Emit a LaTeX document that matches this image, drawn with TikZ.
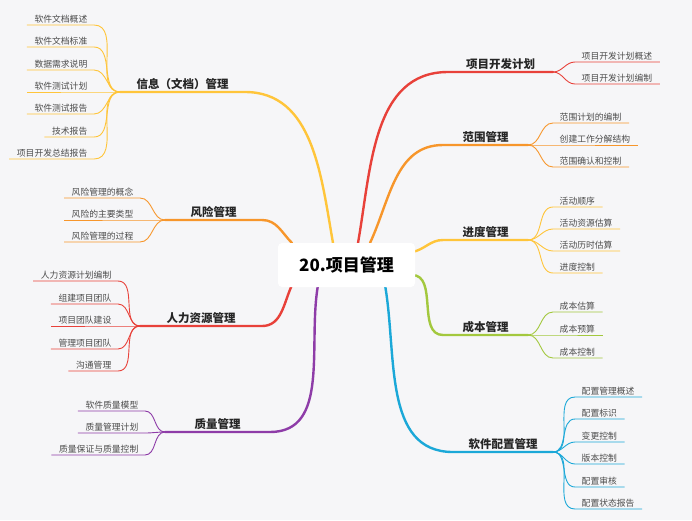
\documentclass[tikz,border=0pt]{standalone}
\usepackage{fontspec}
\setmainfont{Noto Sans CJK SC}
\usetikzlibrary{calc}
\definecolor{cR}{HTML}{E8413A}
\definecolor{cO}{HTML}{F7962B}
\definecolor{cY}{HTML}{FFC53A}
\definecolor{cG}{HTML}{A3C83E}
\definecolor{cB}{HTML}{1BA8D8}
\definecolor{cP}{HTML}{8E3CA8}
\definecolor{bgc}{HTML}{F6F6F8}
\tikzset{
 br/.style={line width=2.4pt,line cap=round},
 sub/.style={line width=0.9pt},
 lab/.style={font=\bfseries\fontsize{11.5}{12}\selectfont,text=black!85,inner sep=2pt},
 itm/.style={font=\fontsize{8.8}{9}\selectfont,text=black!70,inner sep=1.5pt},
}
\newcommand\RItem[6]{% name color branchend xs uy text
 \node[itm,anchor=south west] (#1) at (#4+5,-#5) {#6};
 \draw[sub,#2] (#3) to[out=0,in=180] (#4,-#5) -- ([xshift=6pt]#1.south east);}
\newcommand\LItem[6]{% name color branchend xe uy text
 \node[itm,anchor=south east] (#1) at (#4-5,-#5) {#6};
 \draw[sub,#2] (#3) to[out=180,in=0] (#4,-#5) -- ([xshift=-6pt]#1.south west);}
\begin{document}
\begin{tikzpicture}[x=1pt,y=1pt]
\fill[bgc] (0,0) rectangle (692,-520);
\useasboundingbox (0,0) rectangle (692,-520);
% main branches
\coordinate (rs) at (358,-243); \coordinate (ra) at (448,-72); \coordinate (rb) at (553,-72);
\coordinate (os) at (370,-243); \coordinate (oa) at (443,-145); \coordinate (ob) at (528,-145);
\coordinate (ys) at (412,-252); \coordinate (ya) at (443,-240); \coordinate (yb) at (528,-240);
\coordinate (gs) at (412,-275); \coordinate (ga) at (443,-335); \coordinate (gb) at (528,-335);
\coordinate (bs) at (385,-285); \coordinate (ba) at (453,-452); \coordinate (bb) at (553,-452);
\coordinate (ls) at (333,-243); \coordinate (la) at (245,-92); \coordinate (lb) at (120,-92);
\coordinate (fs) at (292,-243); \coordinate (fa) at (262,-220); \coordinate (fb) at (165,-220);
\coordinate (hs) at (292,-285); \coordinate (ha) at (262,-326); \coordinate (hb) at (140,-326);
\coordinate (qs) at (318,-285); \coordinate (qa) at (270,-432); \coordinate (qb) at (165,-432);
\draw[br,cR] (rs) to[out=80,in=180] (ra) -- (rb);
\draw[br,cO] (os) to[out=65,in=180] (oa) -- (ob);
\draw[br,cY] (ys) to[out=10,in=180] (ya) -- (yb);
\draw[br,cG] (gs) to[out=0,in=180] (ga) -- (gb);
\draw[br,cB] (bs) to[out=-80,in=180] (ba) -- (bb);
\draw[br,cY] (ls) to[out=100,in=0] (la) -- (lb);
\draw[br,cO] (fs) to[out=135,in=0] (fa) -- (fb);
\draw[br,cR] (hs) to[out=-115,in=0] (ha) -- (hb);
\draw[br,cP] (qs) to[out=-100,in=0] (qa) -- (qb);
\node[lab,anchor=south] (L1) at ($(ra)!0.5!(rb)$) {项目开发计划};
\node[lab,anchor=south] (L2) at ($(oa)!0.5!(ob)$) {范围管理};
\node[lab,anchor=south] (L3) at ($(ya)!0.5!(yb)$) {进度管理};
\node[lab,anchor=south] (L4) at ($(ga)!0.5!(gb)$) {成本管理};
\node[lab,anchor=south] (L5) at ($(ba)!0.5!(bb)$) {软件配置管理};
\node[lab,anchor=south] (L6) at ($(la)!0.5!(lb)$) {信息（文档）管理};
\node[lab,anchor=south] (L7) at ($(fa)!0.5!(fb)$) {风险管理};
\node[lab,anchor=south] (L8) at ($(ha)!0.5!(hb)$) {人力资源管理};
\node[lab,anchor=south] (L9) at ($(qa)!0.5!(qb)$) {质量管理};
% right items
\RItem{r1}{cR}{rb}{575}{62}{项目开发计划概述}
\RItem{r2}{cR}{rb}{575}{84}{项目开发计划编制}
\RItem{o1}{cO}{ob}{553}{123}{范围计划的编制}
\RItem{o2}{cO}{ob}{553}{145}{创建工作分解结构}
\RItem{o3}{cO}{ob}{553}{167}{范围确认和控制}
\RItem{y1}{cY}{yb}{553}{207}{活动顺序}
\RItem{y2}{cY}{yb}{553}{229}{活动资源估算}
\RItem{y3}{cY}{yb}{553}{251}{活动历时估算}
\RItem{y4}{cY}{yb}{553}{273}{进度控制}
\RItem{g1}{cG}{gb}{553}{312}{成本估算}
\RItem{g2}{cG}{gb}{553}{335}{成本预算}
\RItem{g3}{cG}{gb}{553}{358}{成本控制}
\RItem{b1}{cB}{bb}{575}{397}{配置管理概述}
\RItem{b2}{cB}{bb}{575}{419}{配置标识}
\RItem{b3}{cB}{bb}{575}{442}{变更控制}
\RItem{b4}{cB}{bb}{575}{464}{版本控制}
\RItem{b5}{cB}{bb}{575}{487}{配置审核}
\RItem{b6}{cB}{bb}{575}{509}{配置状态报告}
% left items
\LItem{l1}{cY}{lb}{94}{25}{软件文档概述}
\LItem{l2}{cY}{lb}{94}{47}{软件文档标准}
\LItem{l3}{cY}{lb}{94}{70}{数据需求说明}
\LItem{l4}{cY}{lb}{94}{92}{软件测试计划}
\LItem{l5}{cY}{lb}{94}{114}{软件测试报告}
\LItem{l6}{cY}{lb}{94}{137}{技术报告}
\LItem{l7}{cY}{lb}{94}{159}{项目开发总结报告}
\LItem{f1}{cO}{fb}{140}{198}{风险管理的概念}
\LItem{f2}{cO}{fb}{140}{220}{风险的主要类型}
\LItem{f3}{cO}{fb}{140}{242}{风险管理的过程}
\LItem{h1}{cR}{hb}{118}{281}{人力资源计划编制}
\LItem{h2}{cR}{hb}{118}{304}{组建项目团队}
\LItem{h3}{cR}{hb}{118}{326}{项目团队建设}
\LItem{h4}{cR}{hb}{118}{349}{管理项目团队}
\LItem{h5}{cR}{hb}{118}{371}{沟通管理}
\LItem{q1}{cP}{qb}{145}{411}{软件质量模型}
\LItem{q2}{cP}{qb}{145}{433}{质量管理计划}
\LItem{q3}{cP}{qb}{145}{455}{质量保证与质量控制}
% center
\node[fill=white,rounded corners=4pt,minimum width=137pt,minimum height=44pt,
  font=\bfseries\fontsize{17}{18}\selectfont,text=black] (C) at (346.5,-265) {20.项目管理};
\end{tikzpicture}
\end{document}
